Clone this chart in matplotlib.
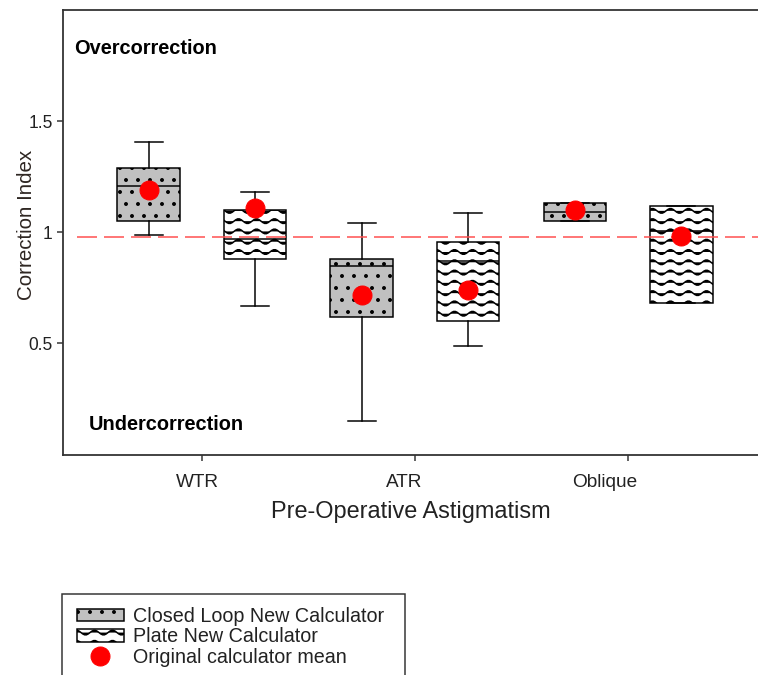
import warnings
import numpy as np
import matplotlib
matplotlib.use('Agg')
import matplotlib.pyplot as plt
import matplotlib.hatch as mhatch
from matplotlib.path import Path
from matplotlib.patches import Rectangle, Patch
from matplotlib.lines import Line2D

warnings.filterwarnings('ignore', message='hatch must consist')

# groups and box statistics (correction index)
groups = ['WTR', 'ATR', 'Oblique']

closed_q1 = [1.05, 0.62, 1.05]
closed_med = [1.21, 0.85, 1.09]
closed_q3 = [1.29, 0.88, 1.13]
closed_lo = [0.99, 0.15, 1.05]
closed_hi = [1.405, 1.04, 1.13]

plate_q1 = [0.88, 0.60, 0.68]
plate_med = [0.97, 0.87, 1.005]
plate_q3 = [1.10, 0.955, 1.12]
plate_lo = [0.67, 0.49, 0.68]
plate_hi = [1.18, 1.085, 1.12]

closed_orig_mean = [1.19, 0.72, 1.10]
plate_orig_mean = [1.11, 0.74, 0.985]

ref_line = 0.977


class WaveHatch(mhatch.HatchPatternBase):
    """'~' hatch: rows of sine waves, four periods per tile."""
    def __init__(self, hatch, density):
        self.num_rows = hatch.count('~') * 7
        self.npts = 41
        self.num_vertices = self.num_rows * self.npts

    def set_vertices_and_codes(self, vertices, codes):
        t = np.linspace(0, 1, self.npts)
        n = self.npts
        for i in range(self.num_rows):
            y0 = (i + 0.5) / self.num_rows
            vertices[i * n:(i + 1) * n, 0] = t
            vertices[i * n:(i + 1) * n, 1] = y0 + 0.033 * np.sin(2 * np.pi * 4 * t)
            codes[i * n] = Path.MOVETO
            codes[i * n + 1:(i + 1) * n] = Path.LINETO


mhatch._hatch_types.append(WaveHatch)

plt.rcParams['font.family'] = ['Liberation Sans', 'DejaVu Sans']
plt.rcParams['hatch.linewidth'] = 1.5
plt.rcParams['lines.scale_dashes'] = False

ink = '#222222'
fig = plt.figure(figsize=(758 / 72, 675 / 72), dpi=72)
ax = fig.add_axes([62.7 / 758, 1 - 454.6 / 675, 1 - 62.7 / 758, (454.6 - 10) / 675])

x = np.arange(1, len(groups) + 1)
off = 0.249
bw = 0.295


def stats(q1, med, q3, lo, hi):
    return [dict(q1=a, med=b, q3=c, whislo=d, whishi=e, fliers=[])
            for a, b, c, d, e in zip(q1, med, q3, lo, hi)]


line_kw = dict(color='black', linewidth=1.5)
for st, pos, fc, hatch in [
        (stats(closed_q1, closed_med, closed_q3, closed_lo, closed_hi), x - off, '#c0c0c0', '.'),
        (stats(plate_q1, plate_med, plate_q3, plate_lo, plate_hi), x + off, 'white', '~')]:
    ax.bxp(st, positions=pos, widths=bw, capwidths=0.131, patch_artist=True,
           showfliers=False, manage_ticks=False,
           boxprops=dict(facecolor=fc, edgecolor='black', linewidth=1.5, hatch=hatch),
           medianprops=line_kw, whiskerprops=line_kw, capprops=line_kw, zorder=2)

ax.hlines(ref_line, 0.414, 3.61, colors='#ff4d4d', linewidth=1.5,
          linestyles=(0, (20, 7)), zorder=3)

ax.plot(x - off, closed_orig_mean, 'o', color='#ff0000', markersize=19, zorder=4)
ax.plot(x + off, plate_orig_mean, 'o', color='#ff0000', markersize=19, zorder=4)

ax.text(0.40, 1.826, 'Overcorrection', fontsize=20, fontweight='bold',
        color='black', va='center', ha='left')
ax.text(0.47, 0.137, 'Undercorrection', fontsize=20, fontweight='bold',
        color='black', va='center', ha='left')

ax.set_xlim(0.3466, 3.61)
ax.set_ylim(0, 2.0)

ax.set_yticks([0.5, 1, 1.5], labels=['0.5', '1', '1.5'])
ax.set_xticks(x, minor=True)
ax.set_xticks([0.977, 1.951, 2.892], labels=groups)
ax.tick_params(axis='x', which='major', length=0, pad=19, labelsize=19, labelcolor=ink)
ax.tick_params(axis='x', which='minor', length=6, width=1.5, color='#333333')
ax.tick_params(axis='y', length=6, width=1.5, color='#333333', pad=4,
               labelsize=17.5, labelcolor=ink)

for s in ['left', 'top', 'bottom']:
    ax.spines[s].set_linewidth(1.8)
    ax.spines[s].set_color('#333333')
ax.spines['right'].set_visible(False)

ax.set_xlabel('Pre-Operative Astigmatism', fontsize=23.5, color=ink, labelpad=10)
ax.set_ylabel('Correction Index', fontsize=20.5, color='#2e2622')
ax.yaxis.set_label_coords((36 - 62.7) / 695.3, (454.6 - 225) / 444.6)

handles = [Patch(facecolor='#c0c0c0', edgecolor='black', hatch='.', linewidth=1.5),
           Patch(facecolor='white', edgecolor='black', hatch='~', linewidth=1.5),
           Line2D([], [], marker='o', color='#ff0000', linestyle='none', markersize=19)]
labels = ['Closed Loop New Calculator', 'Plate New Calculator', 'Original calculator mean']
fig.legend(handles, labels, loc='upper left', bbox_to_anchor=(76.7 / 758, 1 - 607 / 675),
           frameon=False, fontsize=19.7, labelcolor=ink, borderpad=0, borderaxespad=0,
           handlelength=2.4, handleheight=0.6, handletextpad=0.45, labelspacing=0.07)

# legend frame runs off the bottom edge
fig.add_artist(Rectangle((62 / 758, -0.1), (405 - 62) / 758, 0.1 + 1 - 594.5 / 675,
                         transform=fig.transFigure, fill=False,
                         edgecolor='#333333', linewidth=1.5))

fig.savefig('out.png', dpi=72)
